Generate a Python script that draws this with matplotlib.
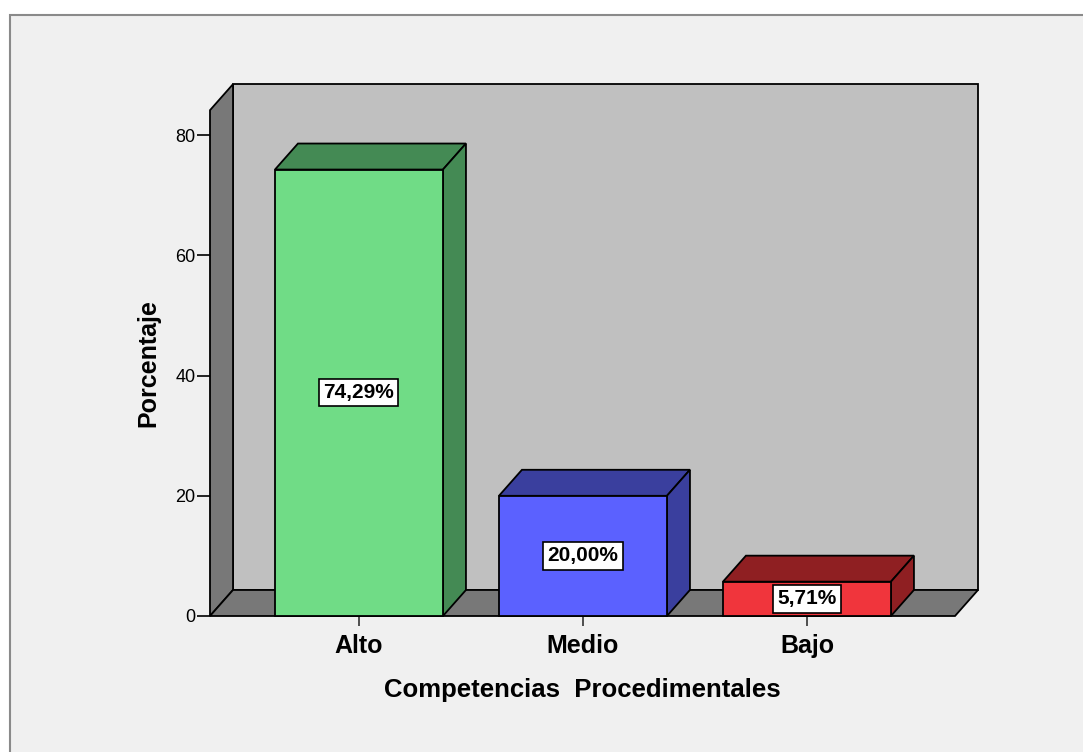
import matplotlib.pyplot as plt
from matplotlib.patches import Polygon, Rectangle

categorias = ['Alto', 'Medio', 'Bajo']
porcentajes = [74.29, 20.00, 5.71]
etiquetas = ['74,29%', '20,00%', '5,71%']
frente = ['#70dc86', '#5b61ff', '#f0353c']
sombra = ['#448a54', '#3a3f9e', '#8f1f22']

plt.rcParams['font.family'] = ['Liberation Sans', 'DejaVu Sans']

fig = plt.figure(figsize=(10.83, 7.52), dpi=100)
fig.patch.set_facecolor('white')
# panel de fondo
fig.patches.append(Rectangle((10 / 1083, -0.1), 1.2, 1.1 - 15 / 752, transform=fig.transFigure,
                             facecolor='#f0f0f0', edgecolor='#8a8a8a', lw=1.5, zorder=-10))

ax = fig.add_axes([210 / 1083, 136 / 752, 745 / 1083, 506 / 752])
ax.set_xlim(-0.665, 2.661)
ax.set_ylim(0, 84.2)
ax.patch.set_visible(False)
for s in ax.spines.values():
    s.set_visible(False)

x0, x1 = -0.665, 2.661
dx, dy = 0.1027, -4.33
techo = 88.5

def poly(pts, fc, z):
    ax.add_patch(Polygon(pts, closed=True, facecolor=fc, edgecolor='black',
                         lw=1.3, clip_on=False, zorder=z))

# paredes y piso
poly([(x0 + dx, -dy), (x1 + dx, -dy), (x1 + dx, techo), (x0 + dx, techo)], '#c0c0c0', 1)
poly([(x0, 0), (x0 + dx, -dy), (x0 + dx, techo), (x0, techo + dy)], '#787878', 2)
poly([(x0, 0), (x1, 0), (x1 + dx, -dy), (x0 + dx, -dy)], '#787878', 2)

# barras 3D
w = 0.75
for i, (v, fc, sc, lab) in enumerate(zip(porcentajes, frente, sombra, etiquetas)):
    l, r = i - w / 2, i + w / 2
    poly([(l, v), (r, v), (r + dx, v - dy), (l + dx, v - dy)], sc, 3)
    poly([(r, 0), (r + dx, -dy), (r + dx, v - dy), (r, v)], sc, 3)
    poly([(l, 0), (r, 0), (r, v), (l, v)], fc, 4)
    ax.text(i, v / 2, lab, ha='center', va='center', fontsize=15, fontweight='bold',
            zorder=6, bbox=dict(boxstyle='square,pad=0.2', fc='white', ec='black', lw=1.2))

ax.set_yticks([0, 20, 40, 60, 80])
ax.set_xticks(range(len(categorias)))
ax.set_xticklabels(categorias, fontsize=18, fontweight='bold')
ax.tick_params(axis='y', length=9.5, width=1.2, labelsize=13, pad=1)
ax.tick_params(axis='x', length=7, width=1.2, color='#333333', pad=6)
ax.set_xlabel('Competencias  Procedimentales', fontsize=18.5, fontweight='bold', labelpad=14)
ax.set_ylabel('Porcentaje', fontsize=18, fontweight='bold', labelpad=11)

fig.savefig('out.png', dpi=100)
